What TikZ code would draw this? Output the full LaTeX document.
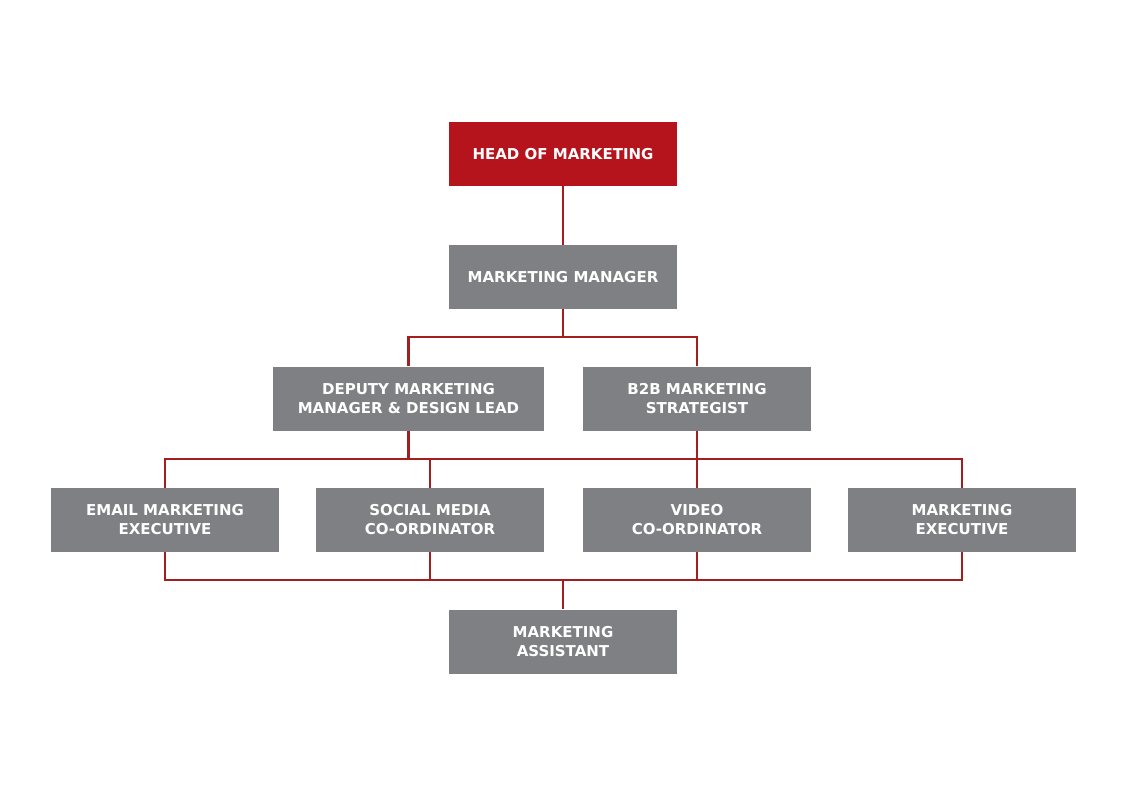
\documentclass[tikz,border=0pt]{standalone}
\usepackage{fontspec}
\setmainfont{DejaVu Sans}
\usepackage{xcolor}
\usetikzlibrary{calc}

\definecolor{headred}{HTML}{B5141C}
\definecolor{boxgrey}{HTML}{7E8083}
\definecolor{linkred}{HTML}{A21E1F}

\tikzset{
    role/.style={rectangle, fill=boxgrey, text=white, inner sep=0pt,
        minimum width=228pt, minimum height=64pt, align=center,
        font=\bfseries\fontsize{15}{19}\selectfont},
    lead/.style={role, fill=headred},
    link/.style={draw=linkred, line width=2.5pt}
}

\begin{document}
\begin{tikzpicture}[x=1pt, y=-1pt]
    \useasboundingbox (0,0) rectangle (1127,797);

    \node[lead] (head) at (563,154) {HEAD OF MARKETING};
    \node[role] (mm) at (563,277) {MARKETING MANAGER};
    \node[role, minimum width=271pt] (dep) at (408.5,398.5) {DEPUTY MARKETING\\MANAGER \& DESIGN LEAD};
    \node[role] (b2b) at (697,398.5) {B2B MARKETING\\STRATEGIST};
    \node[role] (email) at (165,520) {EMAIL MARKETING\\EXECUTIVE};
    \node[role] (social) at (430,520) {SOCIAL MEDIA\\CO-ORDINATOR};
    \node[role] (video) at (697,520) {VIDEO\\CO-ORDINATOR};
    \node[role] (mexec) at (962,520) {MARKETING\\EXECUTIVE};
    \node[role] (asst) at (563,641.5) {MARKETING\\ASSISTANT};

    \coordinate (bus1) at (563,337);
    \coordinate (bus2) at (563,459);
    \coordinate (bus3) at (563,580);

    \draw[link] (head) -- (mm);
    \draw[link] (mm) -- (bus1);
    \draw[link] (dep.north) |- (bus1) -| (b2b.north);

    \draw[link] (email.north) |- (bus2) -| (mexec.north);
    \draw[link] (dep.south) -- (dep.south |- bus2);
    \draw[link] (b2b.south) -- (video.north);
    \draw[link] (social.north) -- (social.north |- bus2);

    \draw[link] (email.south) |- (bus3) -| (mexec.south);
    \draw[link] (social.south) -- (social.south |- bus3);
    \draw[link] (video.south) -- (video.south |- bus3);
    \draw[link] (bus3) -- (asst.north);
\end{tikzpicture}
\end{document}
